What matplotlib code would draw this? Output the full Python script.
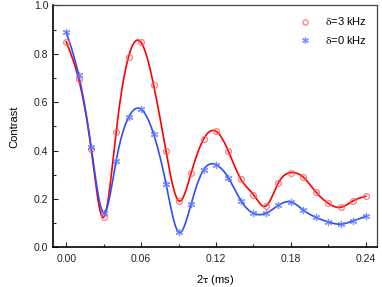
import numpy as np
import matplotlib.pyplot as plt
from matplotlib.ticker import MultipleLocator

plt.rcParams['font.family'] = ['Liberation Sans', 'DejaVu Sans']
plt.rcParams['mathtext.fontset'] = 'stix'

# data: 2tau (ms) and contrast
tau2 = [0.00, 0.01, 0.02, 0.03, 0.04, 0.05, 0.06, 0.07, 0.08, 0.09, 0.10, 0.11, 0.12,
        0.13, 0.14, 0.15, 0.16, 0.17, 0.18, 0.19, 0.20, 0.21, 0.22, 0.23, 0.24]
c_3khz = [0.850, 0.695, 0.405, 0.124, 0.477, 0.789, 0.847, 0.672, 0.397, 0.193, 0.306, 0.447, 0.480,
          0.397, 0.281, 0.218, 0.171, 0.267, 0.309, 0.290, 0.229, 0.182, 0.166, 0.193, 0.211]
c_0khz = [0.890, 0.712, 0.416, 0.143, 0.358, 0.538, 0.571, 0.469, 0.262, 0.063, 0.179, 0.320, 0.342,
          0.287, 0.193, 0.141, 0.141, 0.174, 0.188, 0.154, 0.124, 0.105, 0.096, 0.110, 0.128]


def natural_spline(x, y, xs):
    # natural cubic spline through the points
    x = np.asarray(x, float)
    y = np.asarray(y, float)
    n = len(x)
    h = np.diff(x)
    A = np.zeros((n, n))
    b = np.zeros(n)
    A[0, 0] = A[-1, -1] = 1
    for i in range(1, n - 1):
        A[i, i - 1] = h[i - 1]
        A[i, i] = 2 * (h[i - 1] + h[i])
        A[i, i + 1] = h[i]
        b[i] = 3 * ((y[i + 1] - y[i]) / h[i] - (y[i] - y[i - 1]) / h[i - 1])
    c = np.linalg.solve(A, b)
    idx = np.clip(np.searchsorted(x, xs) - 1, 0, n - 2)
    dx = xs - x[idx]
    bb = (y[idx + 1] - y[idx]) / h[idx] - h[idx] * (2 * c[idx] + c[idx + 1]) / 3
    dd = (c[idx + 1] - c[idx]) / (3 * h[idx])
    return y[idx] + bb * dx + c[idx] * dx ** 2 + dd * dx ** 3


xs = np.linspace(tau2[0], tau2[-1], 600)

fig = plt.figure(figsize=(3.82, 2.87), dpi=100)
ax = fig.add_axes([0.139, 0.138, 0.848, 0.843])

ax.plot(xs, natural_spline(tau2, c_3khz, xs), color='#ff0000', lw=1.2, zorder=2)
ax.plot(xs, natural_spline(tau2, c_0khz, xs), color='#2e4cff', lw=1.2, zorder=2)
ax.plot(tau2, c_3khz, ls='none', marker='o', ms=4.2, mfc='none', mec='#ff5a5a',
        mew=0.9, alpha=0.8, label=r'$\mathrm{\delta}$=3 kHz', zorder=3)
ax.plot(tau2, c_0khz, ls='none', marker=(6, 2, 0), ms=5.2, color='#5a78ff',
        mew=0.9, alpha=0.8, label=r'$\mathrm{\delta}$=0 kHz', zorder=3)

ax.set_xlim(-0.0105, 0.249)
ax.set_ylim(0, 1.0)
ax.xaxis.set_major_locator(MultipleLocator(0.06))
ax.xaxis.set_minor_locator(MultipleLocator(0.03))
ax.yaxis.set_major_locator(MultipleLocator(0.2))
ax.yaxis.set_minor_locator(MultipleLocator(0.1))
ax.xaxis.set_major_formatter(plt.FormatStrFormatter('%.2f'))
ax.yaxis.set_major_formatter(plt.FormatStrFormatter('%.1f'))
ax.tick_params(which='both', direction='in', labelsize=7.5, colors='#222222')
ax.tick_params(which='major', length=3.5, width=0.8)
ax.tick_params(which='minor', length=2, width=0.8)
ax.tick_params(axis='x', pad=5)

for side in ['left', 'bottom']:
    ax.spines[side].set_linewidth(1.2)
    ax.spines[side].set_color('black')
for side in ['top', 'right']:
    ax.spines[side].set_linewidth(0.9)
    ax.spines[side].set_color('#444444')

ax.set_xlabel(r'2$\mathrm{\tau}$ (ms)', fontsize=8, labelpad=6)
ax.set_ylabel('Contrast', fontsize=8, labelpad=10)

ax.legend(loc='upper right', frameon=False, fontsize=8, handletextpad=0.8,
          labelspacing=0.55, borderaxespad=0.5, markerscale=0.9)

fig.savefig('out.png', dpi=100)
